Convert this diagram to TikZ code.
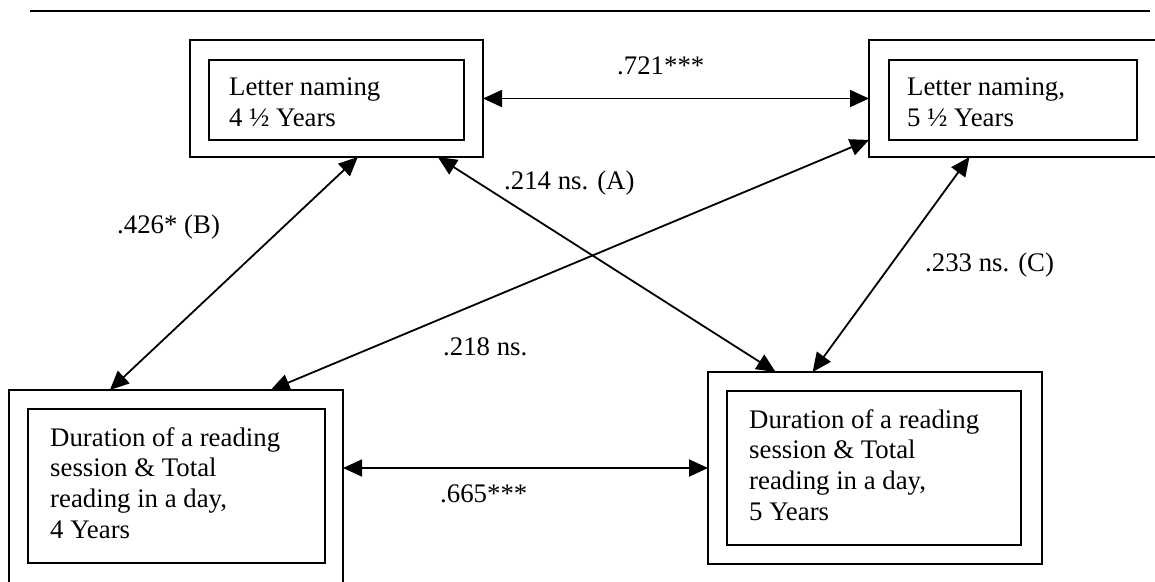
\documentclass[tikz,border=0pt]{standalone}
\usepackage{fontspec}
\setmainfont{Liberation Serif}
\usetikzlibrary{arrows.meta}
\begin{document}
\begin{tikzpicture}[x=1pt,y=-1pt,
  frame/.style={draw, line width=1.7pt, rectangle, inner sep=0pt, outer sep=0pt},
  txt/.style={anchor=north west, inner sep=0pt, align=left, font=\fontsize{26.8}{30.7}\selectfont},
  corr/.style={anchor=base west, inner sep=0pt, font=\fontsize{26.8}{30.7}\selectfont},
  link/.style={line width=1.8pt, {Triangle[length=19pt,width=17pt]}-{Triangle[length=19pt,width=17pt]}}
]
\useasboundingbox (0,0) rectangle (1155,581);
\clip (0,0) rectangle (1155,581);
\fill[white] (0,0) rectangle (1155,581);

% rule across the top of the figure
\draw[line width=2.6pt] (30,11) -- (1150,11);

% outer frames
\node[frame, minimum width=293pt, minimum height=117pt] (o1) at (336.5,98.5) {};
\node[frame, minimum width=289pt, minimum height=117pt] (o2) at (1013.5,98.5) {};
\node[frame, minimum width=334pt, minimum height=196pt] (o3) at (176,488) {};
\node[frame, minimum width=334pt, minimum height=192pt] (o4) at (875,468) {};

% inner frames
\node[frame, minimum width=255pt, minimum height=80pt] (i1) at (336.5,100) {};
\node[frame, minimum width=248pt, minimum height=80pt] (i2) at (1013,100) {};
\node[frame, minimum width=297pt, minimum height=154pt] (i3) at (176.5,486) {};
\node[frame, minimum width=294pt, minimum height=154pt] (i4) at (874,468) {};

% box texts
\node[txt] (t1) at (229,78) {Letter naming\\4 ½ Years};
\node[txt] (t2) at (907,78) {Letter naming,\\5 ½ Years};
\node[txt] (t3) at (50,427) {Duration of a reading\\session \& Total\\reading in a day,\\4 Years};
\node[txt] (t4) at (749,409) {Duration of a reading\\session \& Total\\reading in a day,\\5 Years};

% correlations
\draw[link] (o1.east) -- (o2.west);
\draw[link] (o3.east |- o4.west) -- (o4.west);
\draw[link] (o1.-70.7) -- (o3.124.8);
\draw[link] (o1.-30.7) -- (o4.136.2);
\draw[link] (o2.-127.9) -- (o4.123.3);
\draw[link] (o3.46.8) -- (o2.-164.0);

% coefficients
\node[corr] (l721) at (617,74) {.721***};
\node[corr] (l214) at (504,189) {.214 ns. (A)};
\node[corr] (l426) at (117,233) {.426* (B)};
\node[corr] (l233) at (925,271) {.233 ns. (C)};
\node[corr] (l218) at (443,355) {.218 ns.};
\node[corr] (l665) at (440,502) {.665***};
\end{tikzpicture}
\end{document}
